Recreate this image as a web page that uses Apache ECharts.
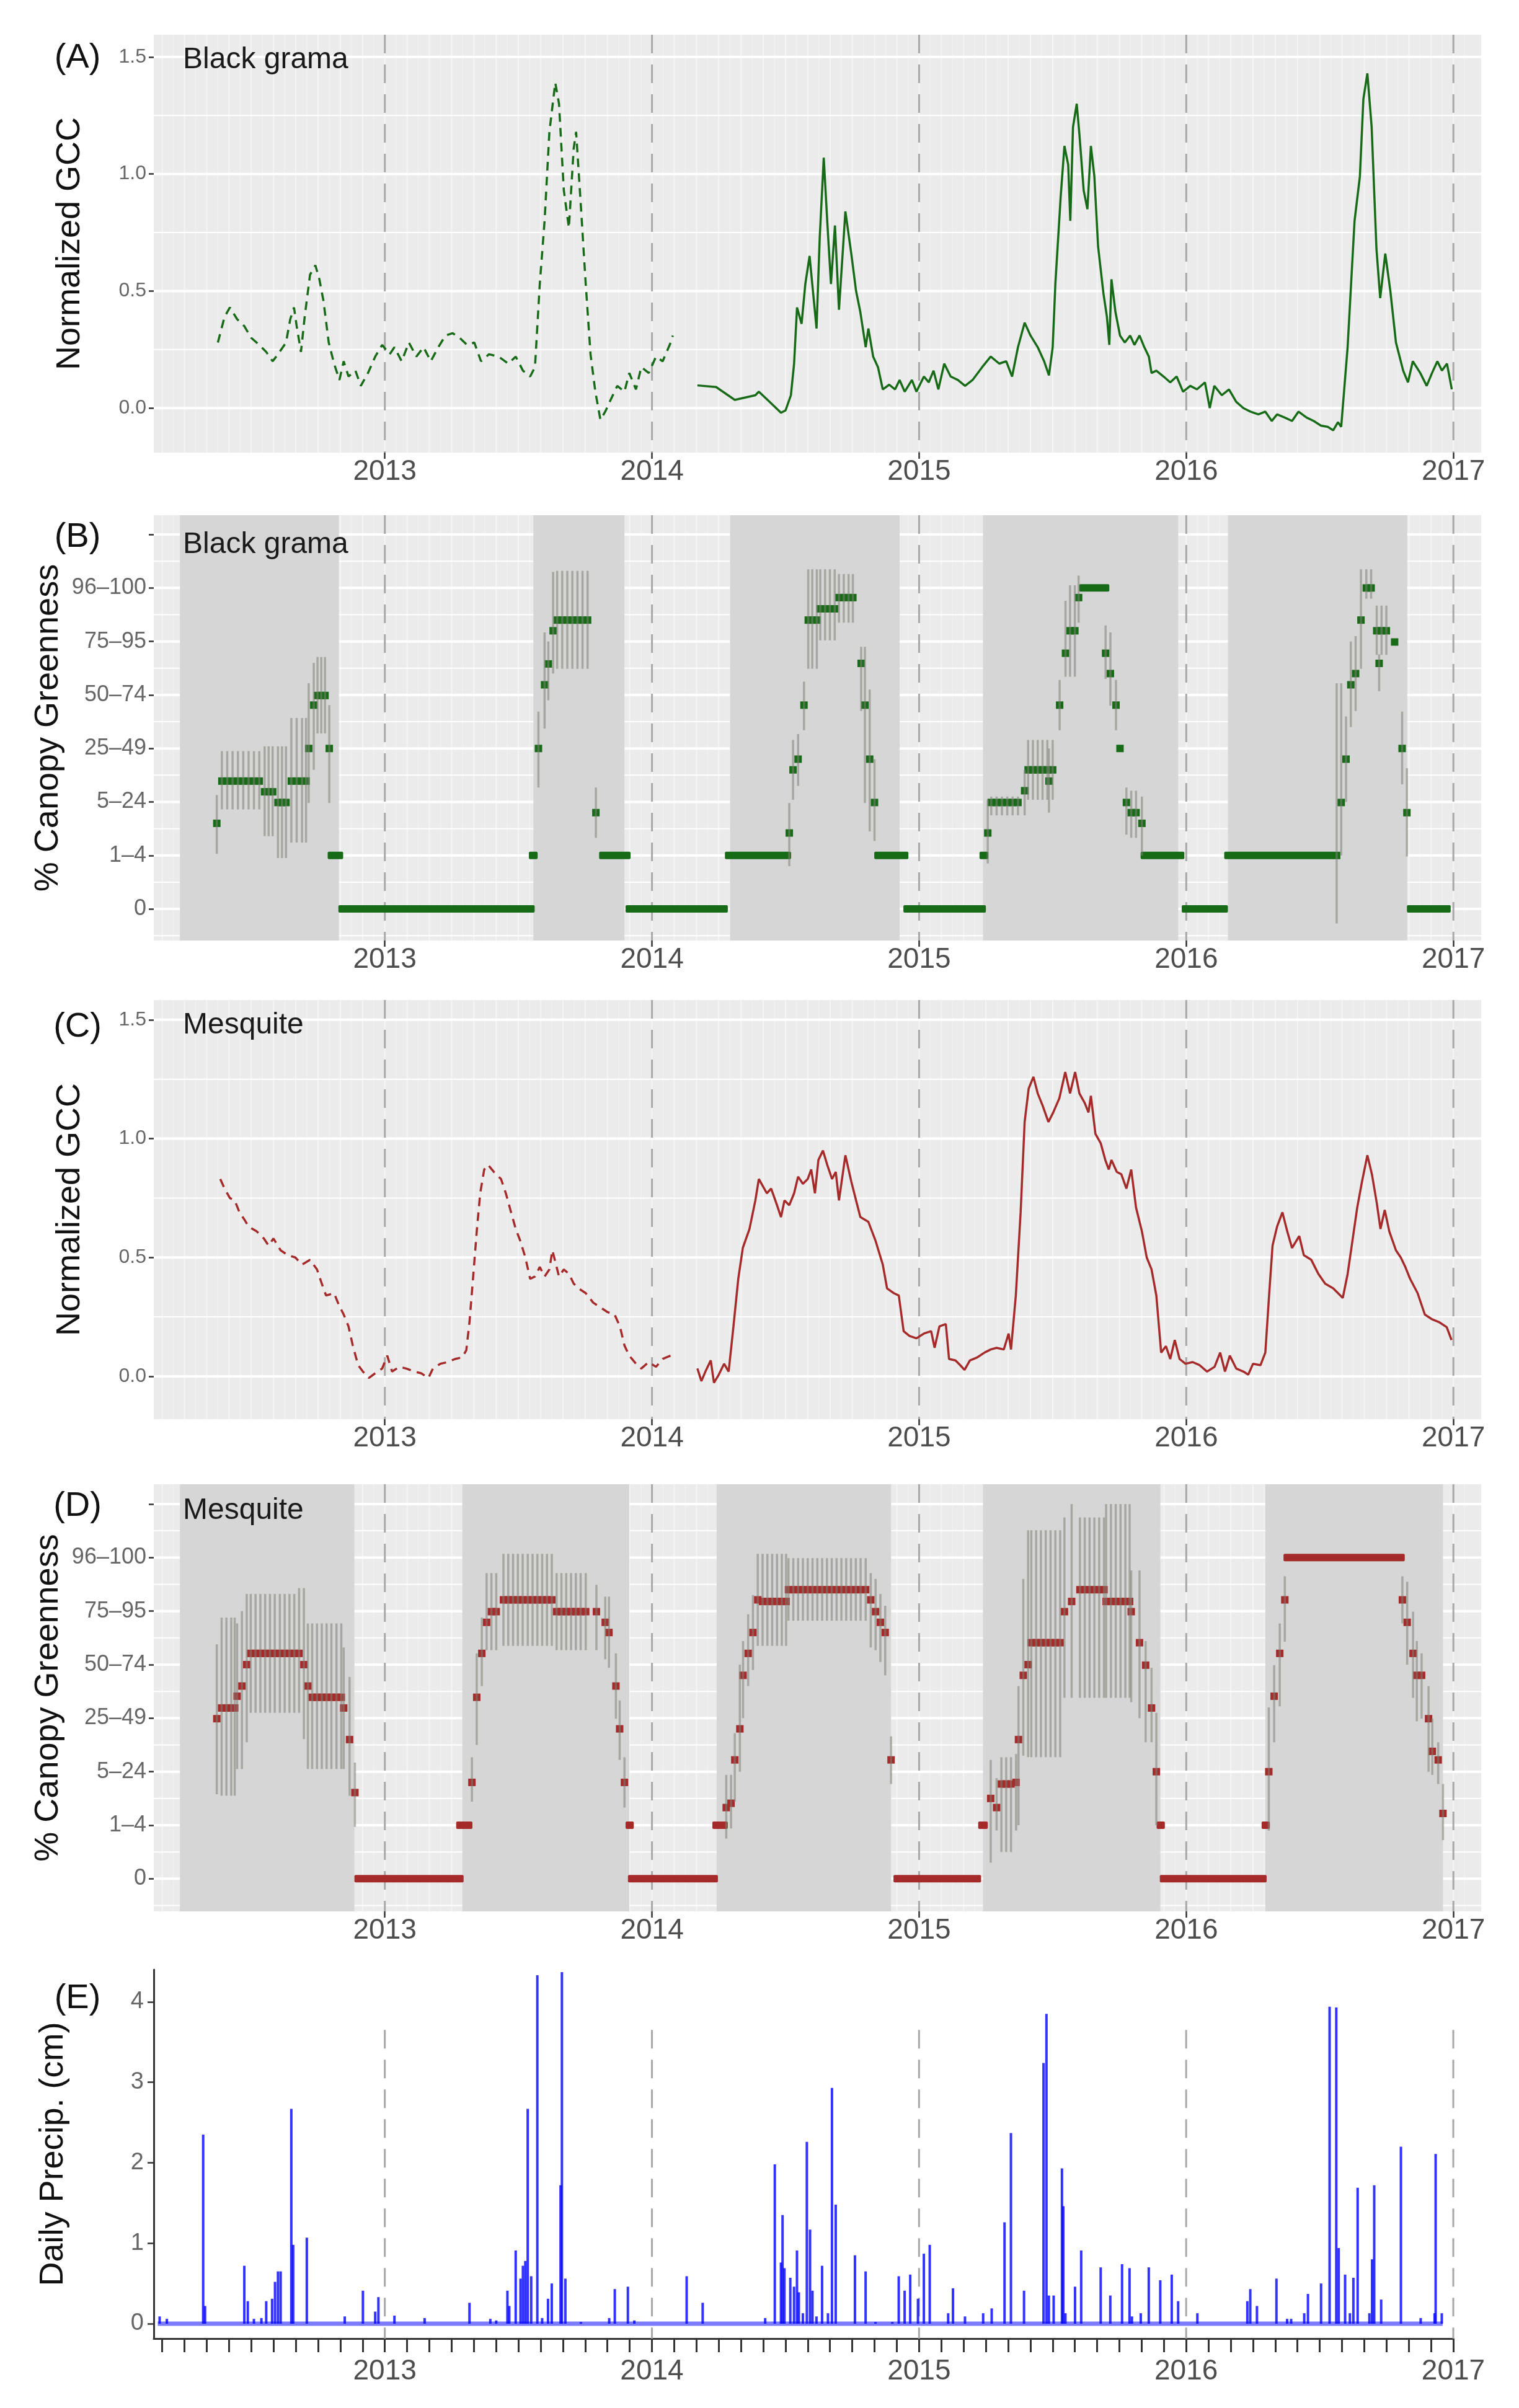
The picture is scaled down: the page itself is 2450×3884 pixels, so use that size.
<!DOCTYPE html>
<html>
<head>
<meta charset="utf-8">
<script src="https://cdn.jsdelivr.net/npm/echarts@6/dist/echarts.min.js"></script>
<style>
html, body { margin: 0; padding: 0; background: #fff; }
#chart { width: 2450px; height: 3884px; }
</style>
</head>
<body>
<div id="chart"></div>
<script>
// tick labels
const years = [2013, 2014, 2015, 2016, 2017];
const gccTicks = [0, 0.5, 1, 1.5];
const coverTicks = [0, 1, 2, 3, 4, 5, 6, 7];
const coverLabels = ['0', '1–4', '5–24', '25–49', '50–74', '75–95', '96–100', ''];
const precipTicks = [0, 1, 2, 3, 4];

// (A) black grama normalized GCC  [decimal year, value]
const gramaGccEarly = [[2012.375,0.28],[2012.40,0.39],[2012.42,0.43],[2012.447,0.38],[2012.474,0.35],[2012.50,0.30],[2012.53,0.27],[2012.556,0.24],[2012.58,0.20],[2012.60,0.23],[2012.63,0.28],[2012.646,0.38],[2012.66,0.43],[2012.67,0.35],[2012.686,0.24],[2012.70,0.39],[2012.72,0.57],[2012.74,0.61],[2012.755,0.55],[2012.77,0.46],[2012.79,0.28],[2012.81,0.19],[2012.83,0.12],[2012.846,0.20],[2012.864,0.135],[2012.89,0.16],[2012.91,0.095],[2012.937,0.15],[2012.964,0.22],[2012.99,0.27],[2013.018,0.23],[2013.036,0.26],[2013.063,0.20],[2013.09,0.28],[2013.118,0.22],[2013.145,0.26],[2013.172,0.20],[2013.20,0.26],[2013.227,0.31],[2013.254,0.32],[2013.28,0.30],[2013.308,0.27],[2013.335,0.28],[2013.36,0.20],[2013.39,0.23],[2013.426,0.22],[2013.462,0.19],[2013.49,0.22],[2013.517,0.16],[2013.544,0.135],[2013.562,0.175],[2013.58,0.53],[2013.598,0.80],[2013.616,1.18],[2013.638,1.39],[2013.652,1.30],[2013.67,0.93],[2013.689,0.77],[2013.707,1.11],[2013.716,1.18],[2013.734,0.86],[2013.752,0.53],[2013.77,0.23],[2013.788,0.07],[2013.807,-0.05],[2013.825,-0.015],[2013.843,0.03],[2013.87,0.095],[2013.897,0.07],[2013.915,0.15],[2013.94,0.08],[2013.96,0.175],[2013.988,0.15],[2014.015,0.22],[2014.04,0.20],[2014.07,0.28],[2014.078,0.31]];
const gramaGccLate = [[2014.17,0.097],[2014.24,0.09],[2014.31,0.035],[2014.387,0.055],[2014.40,0.07],[2014.44,0.027],[2014.483,-0.02],[2014.50,-0.01],[2014.52,0.055],[2014.532,0.19],[2014.543,0.43],[2014.56,0.36],[2014.574,0.53],[2014.59,0.65],[2014.60,0.53],[2014.616,0.34],[2014.628,0.73],[2014.643,1.07],[2014.656,0.80],[2014.67,0.53],[2014.685,0.78],[2014.70,0.42],[2014.724,0.84],[2014.746,0.66],[2014.764,0.50],[2014.78,0.41],[2014.80,0.26],[2014.81,0.34],[2014.828,0.22],[2014.846,0.175],[2014.864,0.08],[2014.888,0.10],[2014.91,0.08],[2014.927,0.12],[2014.946,0.07],[2014.973,0.12],[2014.99,0.07],[2015.018,0.135],[2015.036,0.11],[2015.054,0.16],[2015.072,0.08],[2015.094,0.19],[2015.118,0.135],[2015.145,0.12],[2015.172,0.095],[2015.20,0.12],[2015.236,0.175],[2015.268,0.22],[2015.30,0.19],[2015.326,0.20],[2015.348,0.135],[2015.37,0.26],[2015.395,0.365],[2015.417,0.31],[2015.444,0.26],[2015.468,0.20],[2015.486,0.14],[2015.50,0.26],[2015.51,0.53],[2015.53,0.905],[2015.544,1.12],[2015.558,1.04],[2015.566,0.80],[2015.576,1.20],[2015.59,1.30],[2015.60,1.17],[2015.616,0.93],[2015.63,0.85],[2015.643,1.12],[2015.656,0.99],[2015.67,0.69],[2015.69,0.49],[2015.703,0.39],[2015.712,0.27],[2015.72,0.55],[2015.735,0.41],[2015.752,0.31],[2015.77,0.28],[2015.79,0.31],[2015.806,0.27],[2015.825,0.31],[2015.843,0.26],[2015.86,0.22],[2015.87,0.15],[2015.888,0.16],[2015.915,0.135],[2015.94,0.11],[2015.964,0.135],[2015.988,0.07],[2016.015,0.095],[2016.04,0.08],[2016.07,0.11],[2016.088,0.0],[2016.105,0.095],[2016.133,0.055],[2016.16,0.08],[2016.187,0.027],[2016.214,0.0],[2016.24,-0.015],[2016.27,-0.027],[2016.296,-0.015],[2016.32,-0.055],[2016.34,-0.027],[2016.368,-0.04],[2016.396,-0.055],[2016.42,-0.015],[2016.45,-0.04],[2016.477,-0.055],[2016.504,-0.075],[2016.53,-0.08],[2016.55,-0.095],[2016.568,-0.06],[2016.58,-0.08],[2016.604,0.26],[2016.63,0.80],[2016.65,0.99],[2016.663,1.32],[2016.678,1.43],[2016.694,1.20],[2016.712,0.68],[2016.726,0.47],[2016.745,0.66],[2016.764,0.50],[2016.785,0.28],[2016.812,0.16],[2016.83,0.11],[2016.848,0.20],[2016.876,0.15],[2016.9,0.095],[2016.92,0.15],[2016.94,0.20],[2016.957,0.16],[2016.976,0.19],[2016.994,0.08]];

// (C) mesquite normalized GCC
const mesqGccEarly = [[2012.384,0.83],[2012.40,0.79],[2012.42,0.75],[2012.438,0.74],[2012.456,0.69],[2012.474,0.66],[2012.49,0.63],[2012.52,0.61],[2012.547,0.58],[2012.565,0.55],[2012.583,0.58],[2012.61,0.53],[2012.637,0.51],[2012.665,0.50],[2012.69,0.47],[2012.72,0.49],[2012.746,0.45],[2012.764,0.39],[2012.78,0.34],[2012.81,0.35],[2012.828,0.30],[2012.846,0.26],[2012.864,0.21],[2012.88,0.13],[2012.9,0.047],[2012.918,0.02],[2012.94,-0.007],[2012.964,0.013],[2012.99,0.033],[2013.009,0.087],[2013.027,0.02],[2013.054,0.04],[2013.08,0.033],[2013.11,0.02],[2013.136,0.013],[2013.163,-0.007],[2013.18,0.033],[2013.208,0.053],[2013.236,0.06],[2013.263,0.073],[2013.29,0.08],[2013.305,0.11],[2013.317,0.23],[2013.33,0.41],[2013.344,0.61],[2013.357,0.77],[2013.372,0.87],[2013.386,0.89],[2013.408,0.86],[2013.435,0.83],[2013.453,0.77],[2013.47,0.70],[2013.49,0.62],[2013.507,0.57],[2013.526,0.50],[2013.544,0.41],[2013.562,0.42],[2013.58,0.46],[2013.598,0.42],[2013.616,0.45],[2013.627,0.53],[2013.634,0.50],[2013.652,0.42],[2013.67,0.45],[2013.69,0.43],[2013.707,0.39],[2013.725,0.37],[2013.752,0.35],[2013.78,0.31],[2013.807,0.29],[2013.834,0.27],[2013.86,0.26],[2013.88,0.21],[2013.897,0.13],[2013.915,0.087],[2013.94,0.053],[2013.96,0.033],[2013.988,0.06],[2014.015,0.04],[2014.04,0.073],[2014.07,0.087]];
const mesqGccLate = [[2014.17,0.033],[2014.185,-0.02],[2014.2,0.02],[2014.22,0.067],[2014.232,-0.027],[2014.25,0.007],[2014.27,0.053],[2014.287,0.02],[2014.305,0.21],[2014.323,0.41],[2014.34,0.54],[2014.365,0.62],[2014.387,0.74],[2014.40,0.83],[2014.43,0.77],[2014.446,0.79],[2014.465,0.73],[2014.483,0.67],[2014.496,0.74],[2014.514,0.72],[2014.532,0.77],[2014.547,0.84],[2014.565,0.81],[2014.583,0.83],[2014.596,0.87],[2014.61,0.77],[2014.623,0.91],[2014.64,0.95],[2014.656,0.89],[2014.674,0.83],[2014.688,0.86],[2014.70,0.74],[2014.724,0.93],[2014.746,0.82],[2014.764,0.74],[2014.78,0.67],[2014.81,0.65],[2014.837,0.57],[2014.864,0.47],[2014.88,0.37],[2014.905,0.35],[2014.924,0.34],[2014.942,0.19],[2014.964,0.17],[2014.99,0.16],[2015.018,0.18],[2015.045,0.19],[2015.058,0.12],[2015.076,0.21],[2015.1,0.22],[2015.112,0.073],[2015.136,0.067],[2015.154,0.047],[2015.17,0.027],[2015.19,0.067],[2015.218,0.08],[2015.245,0.10],[2015.268,0.113],[2015.29,0.12],[2015.317,0.113],[2015.335,0.18],[2015.344,0.113],[2015.362,0.34],[2015.38,0.69],[2015.395,1.07],[2015.41,1.21],[2015.428,1.26],[2015.444,1.19],[2015.462,1.14],[2015.484,1.07],[2015.502,1.11],[2015.525,1.17],[2015.547,1.28],[2015.565,1.19],[2015.584,1.28],[2015.60,1.19],[2015.62,1.15],[2015.634,1.11],[2015.643,1.18],[2015.66,1.02],[2015.68,0.98],[2015.697,0.91],[2015.71,0.87],[2015.72,0.91],[2015.74,0.86],[2015.757,0.85],[2015.776,0.79],[2015.794,0.87],[2015.812,0.71],[2015.834,0.61],[2015.852,0.50],[2015.87,0.45],[2015.888,0.34],[2015.906,0.10],[2015.924,0.127],[2015.94,0.073],[2015.957,0.153],[2015.975,0.073],[2015.997,0.053],[2016.024,0.06],[2016.05,0.047],[2016.078,0.02],[2016.106,0.04],[2016.127,0.10],[2016.145,0.02],[2016.163,0.087],[2016.187,0.033],[2016.214,0.02],[2016.232,0.007],[2016.25,0.053],[2016.278,0.047],[2016.296,0.10],[2016.31,0.34],[2016.323,0.55],[2016.34,0.63],[2016.36,0.69],[2016.378,0.61],[2016.396,0.54],[2016.423,0.59],[2016.44,0.51],[2016.468,0.49],[2016.495,0.43],[2016.52,0.39],[2016.55,0.37],[2016.568,0.35],[2016.586,0.33],[2016.604,0.43],[2016.622,0.57],[2016.64,0.71],[2016.658,0.82],[2016.678,0.93],[2016.695,0.85],[2016.713,0.73],[2016.727,0.62],[2016.743,0.70],[2016.76,0.61],[2016.785,0.53],[2016.803,0.50],[2016.82,0.46],[2016.838,0.41],[2016.866,0.35],[2016.893,0.26],[2016.92,0.24],[2016.948,0.227],[2016.975,0.207],[2016.993,0.153]];

// (B) black grama canopy greenness class: [date, class, low, high]
const gramaCoverPts = [[2012.371,1.6,1.03,2.13],[2012.39,2.39,1.86,2.95],[2012.41,2.39,1.86,2.95],[2012.43,2.39,1.86,2.95],[2012.45,2.39,1.86,2.95],[2012.47,2.39,1.86,2.95],[2012.49,2.39,1.86,2.95],[2012.51,2.39,1.86,2.95],[2012.53,2.39,1.86,2.95],[2012.55,2.19,1.36,3.04],[2012.565,2.19,1.36,3.04],[2012.58,2.19,1.36,3.04],[2012.60,1.99,0.95,3.04],[2012.615,1.99,0.95,3.04],[2012.63,1.99,0.95,3.04],[2012.65,2.39,1.24,3.57],[2012.67,2.39,1.24,3.57],[2012.69,2.39,1.24,3.57],[2012.705,2.39,1.24,3.57],[2012.715,3.0,1.98,4.22],[2012.734,3.81,2.6,4.6],[2012.748,3.99,3.28,4.71],[2012.762,3.99,3.28,4.71],[2012.776,3.99,3.28,4.71],[2012.792,3.0,1.98,3.81],[2013.575,3.0,2.27,3.69],[2013.598,4.19,3.37,5.17],[2013.612,4.58,3.9,5.0],[2013.63,5.2,4.4,6.3],[2013.645,5.4,4.49,6.32],[2013.664,5.4,4.49,6.32],[2013.683,5.4,4.49,6.32],[2013.702,5.4,4.49,6.32],[2013.721,5.4,4.49,6.32],[2013.740,5.4,4.49,6.32],[2013.759,5.4,4.49,6.32],[2013.79,1.8,1.33,2.27],[2014.514,1.42,0.8,1.98],[2014.528,2.6,2.04,3.16],[2014.547,2.8,2.3,3.27],[2014.569,3.81,3.34,4.25],[2014.585,5.4,4.49,6.35],[2014.60,5.4,4.49,6.35],[2014.617,5.4,4.49,6.35],[2014.63,5.61,5.02,6.35],[2014.648,5.61,5.02,6.35],[2014.666,5.61,5.02,6.35],[2014.684,5.61,5.02,6.35],[2014.70,5.82,5.35,6.26],[2014.718,5.82,5.35,6.26],[2014.736,5.82,5.35,6.26],[2014.752,5.82,5.35,6.26],[2014.783,4.59,3.7,4.9],[2014.797,3.81,1.98,4.9],[2014.815,2.8,1.45,4.1],[2014.833,1.99,1.27,2.8],[2015.257,1.42,0.85,2.04],[2015.27,1.99,1.75,2.1],[2015.29,1.99,1.75,2.1],[2015.31,1.99,1.75,2.1],[2015.33,1.99,1.75,2.1],[2015.35,1.99,1.75,2.1],[2015.37,1.99,1.75,2.1],[2015.395,2.21,1.75,2.6],[2015.408,2.6,2.04,3.16],[2015.426,2.6,2.04,3.16],[2015.444,2.6,2.04,3.16],[2015.462,2.6,2.04,3.16],[2015.48,2.6,2.04,3.16],[2015.50,2.6,2.04,3.16],[2015.486,2.39,1.8,3.0],[2015.526,3.81,3.34,4.28],[2015.548,4.78,4.34,5.76],[2015.565,5.2,4.34,6.05],[2015.583,5.2,4.34,6.05],[2015.597,5.82,5.35,6.23],[2015.698,4.78,4.3,5.3],[2015.716,4.4,3.8,5.17],[2015.737,3.81,3.34,4.28],[2015.752,3.0,3.0,3.0],[2015.776,1.99,1.39,2.27],[2015.794,1.8,1.33,2.21],[2015.812,1.8,1.33,2.21],[2015.834,1.6,1.0,2.1],[2016.563,1.0,-0.27,4.22],[2016.58,1.99,1.0,4.22],[2016.598,2.8,2.0,3.6],[2016.616,4.19,3.4,5.0],[2016.634,4.4,3.7,5.1],[2016.654,5.4,4.49,6.35],[2016.674,6.0,5.8,6.35],[2016.692,6.0,5.8,6.35],[2016.713,5.2,4.75,5.67],[2016.731,5.2,4.75,5.67],[2016.749,5.2,4.75,5.67],[2016.722,4.59,4.07,4.76],[2016.78,4.99,4.99,4.99],[2016.808,3.0,2.33,3.69],[2016.826,1.8,0.98,2.63]];
// runs of consecutive identical observations: [start, end, class]
const gramaCoverRuns = [[2012.80,2012.83,1],[2012.84,2013.547,0],[2013.553,2013.558,1],[2013.816,2013.906,1],[2013.915,2014.27,0],[2014.287,2014.507,1],[2014.846,2014.946,1],[2014.955,2015.236,0],[2015.24,2015.245,1],[2015.613,2015.698,6],[2015.843,2015.979,1],[2015.997,2016.142,0],[2016.156,2016.54,1],[2016.84,2016.976,0]];
const gramaSeasons = [[2012.233,2012.828],[2013.556,2013.897],[2014.292,2014.927],[2015.239,2015.97],[2016.156,2016.827]];

// (D) mesquite canopy greenness class
const mesqCoverPts = [[2012.371,2.99,1.58,4.38],[2012.389,3.19,1.55,4.88],[2012.407,3.19,1.55,4.88],[2012.425,3.19,1.55,4.88],[2012.438,3.19,1.55,4.88],[2012.447,3.41,2.05,4.77],[2012.465,3.60,2.05,5.0],[2012.483,4.0,2.55,5.32],[2012.498,4.21,3.10,5.32],[2012.516,4.21,3.10,5.32],[2012.534,4.21,3.10,5.32],[2012.552,4.21,3.10,5.32],[2012.570,4.21,3.10,5.32],[2012.588,4.21,3.10,5.32],[2012.607,4.21,3.10,5.32],[2012.625,4.21,3.10,5.32],[2012.643,4.21,3.10,5.32],[2012.661,4.21,3.10,5.32],[2012.679,4.21,3.10,5.43],[2012.697,4.0,2.61,5.43],[2012.712,3.60,2.05,4.77],[2012.728,3.39,2.05,4.77],[2012.746,3.39,2.05,4.77],[2012.764,3.39,2.05,4.77],[2012.782,3.39,2.05,4.77],[2012.800,3.39,2.05,4.77],[2012.819,3.39,2.05,4.77],[2012.837,3.39,2.05,4.77],[2012.846,3.19,2.05,4.32],[2012.868,2.6,1.55,3.77],[2012.888,1.61,0.97,2.17],[2013.326,1.8,1.44,2.27],[2013.344,3.39,2.5,4.21],[2013.363,4.21,3.6,4.88],[2013.381,4.79,4.27,5.71],[2013.399,4.99,4.27,5.71],[2013.417,4.99,4.27,5.71],[2013.444,5.21,4.35,6.07],[2013.462,5.21,4.35,6.07],[2013.480,5.21,4.35,6.07],[2013.498,5.21,4.35,6.07],[2013.516,5.21,4.35,6.07],[2013.535,5.21,4.35,6.07],[2013.553,5.21,4.35,6.07],[2013.571,5.21,4.35,6.07],[2013.589,5.21,4.35,6.07],[2013.607,5.21,4.35,6.07],[2013.625,5.21,4.35,6.07],[2013.643,4.99,4.27,5.71],[2013.661,4.99,4.27,5.71],[2013.679,4.99,4.27,5.71],[2013.697,4.99,4.27,5.71],[2013.715,4.99,4.27,5.71],[2013.733,4.99,4.27,5.71],[2013.752,4.99,4.27,5.71],[2013.792,4.99,4.27,5.49],[2013.825,4.79,4.1,5.27],[2013.839,4.6,3.94,5.27],[2013.865,3.60,2.99,4.21],[2013.879,2.8,2.22,3.33],[2013.897,1.8,1.33,2.27],[2014.278,1.33,0.75,1.94],[2014.296,1.41,0.94,1.94],[2014.31,2.22,1.44,2.72],[2014.329,2.8,2.0,4.0],[2014.341,3.80,3.0,4.44],[2014.36,4.21,3.6,4.94],[2014.378,4.6,3.9,5.3],[2014.396,5.21,4.35,6.07],[2014.414,5.18,4.35,6.07],[2014.432,5.18,4.35,6.07],[2014.45,5.18,4.35,6.07],[2014.468,5.18,4.35,6.07],[2014.486,5.18,4.35,6.07],[2014.502,5.18,4.35,6.07],[2014.511,5.40,4.82,5.99],[2014.529,5.40,4.82,5.99],[2014.547,5.40,4.82,5.99],[2014.565,5.40,4.82,5.99],[2014.583,5.40,4.82,5.99],[2014.601,5.40,4.82,5.99],[2014.619,5.40,4.82,5.99],[2014.637,5.40,4.82,5.99],[2014.655,5.40,4.82,5.99],[2014.673,5.40,4.82,5.99],[2014.691,5.40,4.82,5.99],[2014.709,5.40,4.82,5.99],[2014.727,5.40,4.82,5.99],[2014.745,5.40,4.82,5.99],[2014.763,5.40,4.82,5.99],[2014.781,5.40,4.82,5.99],[2014.80,5.40,4.82,5.99],[2014.819,5.21,4.32,5.71],[2014.837,4.99,4.27,5.6],[2014.855,4.79,4.05,5.32],[2014.873,4.6,3.8,5.1],[2014.895,2.22,1.77,2.66],[2015.268,1.5,0.3,2.22],[2015.29,1.33,0.9,1.88],[2015.308,1.77,0.5,2.27],[2015.326,1.77,0.5,2.27],[2015.344,1.77,0.5,2.27],[2015.363,1.8,0.9,2.33],[2015.372,2.6,1.0,3.6],[2015.39,3.80,2.3,5.6],[2015.408,4.0,2.27,6.51],[2015.42,4.41,2.27,6.51],[2015.438,4.41,2.27,6.51],[2015.456,4.41,2.27,6.51],[2015.474,4.41,2.27,6.51],[2015.492,4.41,2.27,6.51],[2015.51,4.41,2.27,6.51],[2015.528,4.41,2.27,6.51],[2015.544,4.99,3.38,6.75],[2015.571,5.18,3.38,7.0],[2015.602,5.40,3.38,6.75],[2015.62,5.40,3.38,6.75],[2015.638,5.40,3.38,6.75],[2015.656,5.40,3.38,6.75],[2015.674,5.40,3.38,6.75],[2015.692,5.40,3.38,6.75],[2015.70,5.18,3.38,7.0],[2015.718,5.18,3.38,7.0],[2015.736,5.18,3.38,7.0],[2015.754,5.18,3.38,7.0],[2015.772,5.18,3.38,7.0],[2015.788,5.18,3.38,7.0],[2015.794,4.99,3.3,5.76],[2015.825,4.41,3.0,5.76],[2015.848,3.99,2.55,4.44],[2015.87,3.19,2.55,3.94],[2015.888,2.0,1.0,3.1],[2016.309,2.0,0.9,3.2],[2016.329,3.41,2.55,3.99],[2016.35,4.21,3.22,4.77],[2016.369,5.21,4.43,5.65],[2016.809,5.21,4.77,5.65],[2016.827,4.79,4.0,5.55],[2016.849,4.21,3.38,4.99],[2016.863,3.80,2.94,4.44],[2016.881,3.80,2.99,4.21],[2016.907,2.99,2.0,3.6],[2016.921,2.38,1.94,2.99],[2016.943,2.22,1.77,2.55],[2016.961,1.22,0.72,1.77]];
const mesqCoverRuns = [[2012.90,2013.281,0],[2013.281,2013.314,1],[2013.915,2013.918,1],[2013.924,2014.233,0],[2014.24,2014.27,1],[2014.918,2015.218,0],[2015.235,2015.243,1],[2015.903,2015.906,1],[2015.915,2016.287,0],[2016.296,2016.299,1],[2016.378,2016.804,6]];
const mesqSeasons = [[2012.233,2012.886],[2013.29,2013.915],[2014.242,2014.895],[2015.239,2015.903],[2016.296,2016.961]];

// (E) daily precipitation (cm)
const precip = [[2012.157,0.09],[2012.184,0.06],[2012.32,2.35],[2012.327,0.22],[2012.474,0.72],[2012.487,0.28],[2012.51,0.06],[2012.538,0.07],[2012.556,0.28],[2012.578,0.31],[2012.589,0.52],[2012.60,0.65],[2012.61,0.65],[2012.65,2.67],[2012.657,0.98],[2012.708,1.07],[2012.85,0.09],[2012.918,0.41],[2012.964,0.15],[2012.976,0.33],[2013.036,0.10],[2013.149,0.07],[2013.317,0.26],[2013.395,0.06],[2013.417,0.04],[2013.459,0.41],[2013.466,0.22],[2013.49,0.91],[2013.508,0.56],[2013.517,0.72],[2013.526,0.78],[2013.535,2.67],[2013.548,0.59],[2013.571,4.33],[2013.589,0.07],[2013.611,0.31],[2013.625,0.50],[2013.658,1.72],[2013.663,4.37],[2013.676,0.56],[2013.734,0.02],[2013.84,0.07],[2013.861,0.43],[2013.91,0.46],[2013.934,0.04],[2014.13,0.59],[2014.19,0.26],[2014.424,0.07],[2014.46,1.98],[2014.483,0.76],[2014.489,1.35],[2014.496,0.69],[2014.518,0.57],[2014.532,0.46],[2014.543,0.91],[2014.55,0.39],[2014.565,0.13],[2014.58,2.26],[2014.592,1.17],[2014.601,0.41],[2014.616,0.09],[2014.637,0.72],[2014.659,0.13],[2014.674,2.93],[2014.688,1.48],[2014.76,0.85],[2014.80,0.65],[2014.837,0.02],[2014.90,0.02],[2014.924,0.59],[2014.946,0.41],[2014.967,0.61],[2014.996,0.31],[2015.018,0.87],[2015.04,0.98],[2015.109,0.13],[2015.127,0.44],[2015.172,0.09],[2015.24,0.13],[2015.272,0.19],[2015.32,1.26],[2015.344,2.37],[2015.393,0.41],[2015.466,3.24],[2015.477,3.85],[2015.486,0.35],[2015.504,0.35],[2015.535,1.93],[2015.54,1.46],[2015.548,0.13],[2015.584,0.46],[2015.607,0.91],[2015.68,0.70],[2015.716,0.35],[2015.76,0.74],[2015.788,0.69],[2015.797,0.09],[2015.83,0.13],[2015.86,0.70],[2015.903,0.54],[2015.946,0.61],[2015.97,0.28],[2016.042,0.13],[2016.229,0.28],[2016.24,0.43],[2016.265,0.22],[2016.338,0.56],[2016.378,0.06],[2016.393,0.06],[2016.442,0.13],[2016.456,0.37],[2016.505,0.50],[2016.537,3.94],[2016.562,3.93],[2016.571,0.94],[2016.595,0.61],[2016.613,0.13],[2016.626,0.57],[2016.642,1.69],[2016.686,0.13],[2016.696,0.80],[2016.704,1.72],[2016.73,0.30],[2016.804,2.2],[2016.878,0.07],[2016.93,0.13],[2016.934,2.11],[2016.957,0.13]];
const precipRecord = [[2012.15, 2016.96, 0]];

const FONT = '"Liberation Sans", Arial, Helvetica, sans-serif';
const GREEN = '#176b17';
const RED = '#a52a2a';
const X0 = 2012.135;

// month / half-month positions for the vertical background lines and E ticks
const monthPos = [];
for (let y = 2012; y <= 2016; y++) for (let m = 0; m < 12; m++) monthPos.push(y + m / 12);
monthPos.push(2017);

const chart = echarts.init(document.getElementById('chart'));

const panels = [
  { top: 56, height: 674, min: -0.19, max: 1.595, kind: 'gcc' },
  { top: 831, height: 686, min: -0.59, max: 7.36, kind: 'cover' },
  { top: 1613, height: 676, min: -0.18, max: 1.583, kind: 'gcc' },
  { top: 2394, height: 689, min: -0.61, max: 7.37, kind: 'cover' },
  { top: 3177, height: 595, min: -0.185, max: 4.4, kind: 'precip' }
];

const grids = panels.map(p => ({
  left: 248, width: p.kind === 'precip' ? 2096 : 2141, top: p.top, height: p.height,
  show: p.kind !== 'precip', backgroundColor: '#ebebeb', borderWidth: 0
}));

const xAxes = panels.map((p, i) => {
  const isP = p.kind === 'precip';
  return {
    type: 'value', gridIndex: i, min: X0, max: isP ? 2017 : 2017.104,
    splitLine: { show: false },
    axisLine: { show: isP, onZero: false, lineStyle: { color: '#333', width: 3 } },
    axisTick: { show: true, customValues: isP ? monthPos : years, length: isP ? 22 : 10,
      lineStyle: { color: '#333', width: isP ? 3 : 2.5 } },
    axisLabel: { customValues: years, formatter: v => String(Math.round(v)), fontSize: 46,
      fontFamily: FONT, color: '#4d4d4d', margin: isP ? 30 : 8 }
  };
});

const yNames = ['Normalized GCC', '% Canopy Greenness', 'Normalized GCC', '% Canopy Greenness', 'Daily Precip. (cm)'];
const yGaps = [108, 135, 108, 139, 135];
const yAxes = panels.map((p, i) => {
  const ticks = p.kind === 'gcc' ? gccTicks : (p.kind === 'cover' ? coverTicks : precipTicks);
  const isP = p.kind === 'precip';
  return {
    type: 'value', gridIndex: i, min: p.min, max: p.max,
    splitLine: { show: false },
    axisLine: { show: isP, onZero: false, lineStyle: { color: '#333', width: 3 } },
    axisTick: { show: true, customValues: ticks, length: isP ? 10 : 8, lineStyle: { color: '#333', width: 2.5 } },
    axisLabel: {
      customValues: ticks, fontFamily: FONT, color: '#666',
      fontSize: p.kind === 'gcc' ? 32 : (p.kind === 'cover' ? 36 : 38),
      margin: isP ? 16 : 12,
      formatter: v => p.kind === 'gcc' ? v.toFixed(1) : (p.kind === 'cover' ? coverLabels[Math.round(v)] : String(Math.round(v)))
    },
    name: yNames[i], nameLocation: 'middle', nameGap: yGaps[i],
    nameTextStyle: { fontSize: 54, fontFamily: FONT, color: '#111' }
  };
});

// background grid lines (ggplot style)
function bgData(p) {
  const d = [];
  if (p.kind === 'gcc') {
    gccTicks.forEach(v => d.push([v, 0]));
    [0.25, 0.75, 1.25].forEach(v => d.push([v, 1]));
  } else {
    coverTicks.forEach(v => d.push([v, 0]));
    coverTicks.forEach(v => d.push([v - 0.5, 1]));
  }
  monthPos.forEach(v => { d.push([v, 2]); d.push([v + 1 / 24, 3]); });
  return d;
}
function bgSeries(i, p) {
  return {
    type: 'custom', xAxisIndex: i, yAxisIndex: i, z: 1, silent: true, clip: false,
    data: bgData(p),
    renderItem: (params, api) => {
      const cs = params.coordSys;
      const v = api.value(0), k = api.value(1);
      if (k < 2) {
        const y = api.coord([2014, v])[1];
        if (y < cs.y || y > cs.y + cs.height) return null;
        return { type: 'line', shape: { x1: cs.x, y1: y, x2: cs.x + cs.width, y2: y },
          style: { stroke: '#ffffff', lineWidth: k === 0 ? 4 : 2 } };
      }
      const x = api.coord([v, 0])[0];
      if (x < cs.x || x > cs.x + cs.width) return null;
      return { type: 'line', shape: { x1: x, y1: cs.y, x2: x, y2: cs.y + cs.height },
        style: { stroke: k === 2 ? 'rgba(255,255,255,0.5)' : 'rgba(255,255,255,0.3)', lineWidth: k === 2 ? 2 : 1.5 } };
    }
  };
}
function yearLineSeries(i, top) {
  return {
    type: 'custom', xAxisIndex: i, yAxisIndex: i, z: 3, silent: true, clip: false,
    data: years.map(y => [y, 0]),
    renderItem: (params, api) => {
      const cs = params.coordSys;
      const x = api.coord([api.value(0), 0])[0];
      const y1 = top == null ? cs.y : api.coord([2014, top])[1];
      return { type: 'line', shape: { x1: x, y1: y1, x2: x, y2: cs.y + cs.height },
        style: { stroke: '#a8a8a8', lineWidth: 3, lineDash: [30, 18] } };
    }
  };
}
function seasonSeries(i, data) {
  return {
    type: 'custom', xAxisIndex: i, yAxisIndex: i, z: 2, silent: true,
    data: data,
    renderItem: (params, api) => {
      const cs = params.coordSys;
      const x1 = api.coord([api.value(0), 0])[0];
      const x2 = api.coord([api.value(1), 0])[0];
      return { type: 'rect', shape: { x: x1, y: cs.y, width: x2 - x1, height: cs.height },
        style: { fill: '#d6d6d6' } };
    }
  };
}
function runSeries(i, data, color) {
  return {
    type: 'custom', xAxisIndex: i, yAxisIndex: i, z: 4, silent: true,
    data: data,
    renderItem: (params, api) => {
      const a = api.coord([api.value(0), api.value(2)]);
      const b = api.coord([api.value(1), api.value(2)]);
      return { type: 'rect', shape: { x: a[0] - 6, y: a[1] - 6, width: b[0] - a[0] + 12, height: 12, r: 2 },
        style: { fill: color } };
    }
  };
}
function errSeries(i, data) {
  return {
    type: 'custom', xAxisIndex: i, yAxisIndex: i, z: 5, silent: true,
    data: data,
    renderItem: (params, api) => {
      const x = api.value(0), lo = api.value(2), hi = api.value(3);
      if (hi - lo < 0.01) return null;
      const a = api.coord([x, lo]), b = api.coord([x, hi]);
      return { type: 'line', shape: { x1: a[0], y1: a[1], x2: b[0], y2: b[1] },
        style: { stroke: 'rgba(128,130,118,0.55)', lineWidth: 3.5 } };
    }
  };
}
function pointSeries(i, data, color) {
  return {
    type: 'scatter', xAxisIndex: i, yAxisIndex: i, z: 4, silent: true,
    data: data.map(d => [d[0], d[1]]), symbol: 'rect', symbolSize: 12,
    itemStyle: { color: color, opacity: 1 }
  };
}
function gccLine(i, data, color, dashed) {
  return {
    type: 'line', xAxisIndex: i, yAxisIndex: i, z: 4, silent: true,
    data: data, showSymbol: false, symbol: 'none',
    lineStyle: { color: color, width: 3.5, type: dashed ? [14, 10] : 'solid' }
  };
}

const series = [
  bgSeries(0, panels[0]), yearLineSeries(0),
  gccLine(0, gramaGccEarly, GREEN, true), gccLine(0, gramaGccLate, GREEN, false),

  bgSeries(1, panels[1]), seasonSeries(1, gramaSeasons), yearLineSeries(1),
  runSeries(1, gramaCoverRuns, GREEN), pointSeries(1, gramaCoverPts, GREEN), errSeries(1, gramaCoverPts),

  bgSeries(2, panels[2]), yearLineSeries(2),
  gccLine(2, mesqGccEarly, RED, true), gccLine(2, mesqGccLate, RED, false),

  bgSeries(3, panels[3]), seasonSeries(3, mesqSeasons), yearLineSeries(3),
  runSeries(3, mesqCoverRuns, RED), pointSeries(3, mesqCoverPts, RED), errSeries(3, mesqCoverPts),

  yearLineSeries(4, 3.65),
  {
    type: 'custom', xAxisIndex: 4, yAxisIndex: 4, z: 4, silent: true,
    data: precipRecord,
    renderItem: (params, api) => {
      const a = api.coord([api.value(0), 0]), b = api.coord([api.value(1), 0]);
      return { type: 'line', shape: { x1: a[0], y1: a[1], x2: b[0], y2: b[1] },
        style: { stroke: 'rgba(80,80,255,0.75)', lineWidth: 7 } };
    }
  },
  {
    type: 'custom', xAxisIndex: 4, yAxisIndex: 4, z: 5, silent: true,
    data: precip,
    renderItem: (params, api) => {
      const a = api.coord([api.value(0), 0]), b = api.coord([api.value(0), api.value(1)]);
      return { type: 'line', shape: { x1: a[0], y1: a[1], x2: b[0], y2: b[1] },
        style: { stroke: 'rgba(0,0,255,0.8)', lineWidth: 4 } };
    }
  }
];

const panelTags = [['(A)', 94], ['(B)', 867], ['(C)', 1657], ['(D)', 2430], ['(E)', 3224]];
const insetNames = [['Black grama', 97], ['Black grama', 879], ['Mesquite', 1654], ['Mesquite', 2437]];

const graphic = [];
panelTags.forEach(t => graphic.push({ type: 'text', x: 125, y: t[1], silent: true,
  style: { text: t[0], fontSize: 56, fontFamily: FONT, fill: '#111', align: 'center', verticalAlign: 'middle' } }));
insetNames.forEach(t => graphic.push({ type: 'text', x: 295, y: t[1], z: 100, silent: true,
  style: { text: t[0], fontSize: 48, fontFamily: FONT, fill: '#1a1a1a', align: 'left', verticalAlign: 'middle' } }));

chart.setOption({
  animation: false,
  backgroundColor: '#ffffff',
  grid: grids,
  xAxis: xAxes,
  yAxis: yAxes,
  series: series,
  graphic: graphic
});
</script>
</body>
</html>
